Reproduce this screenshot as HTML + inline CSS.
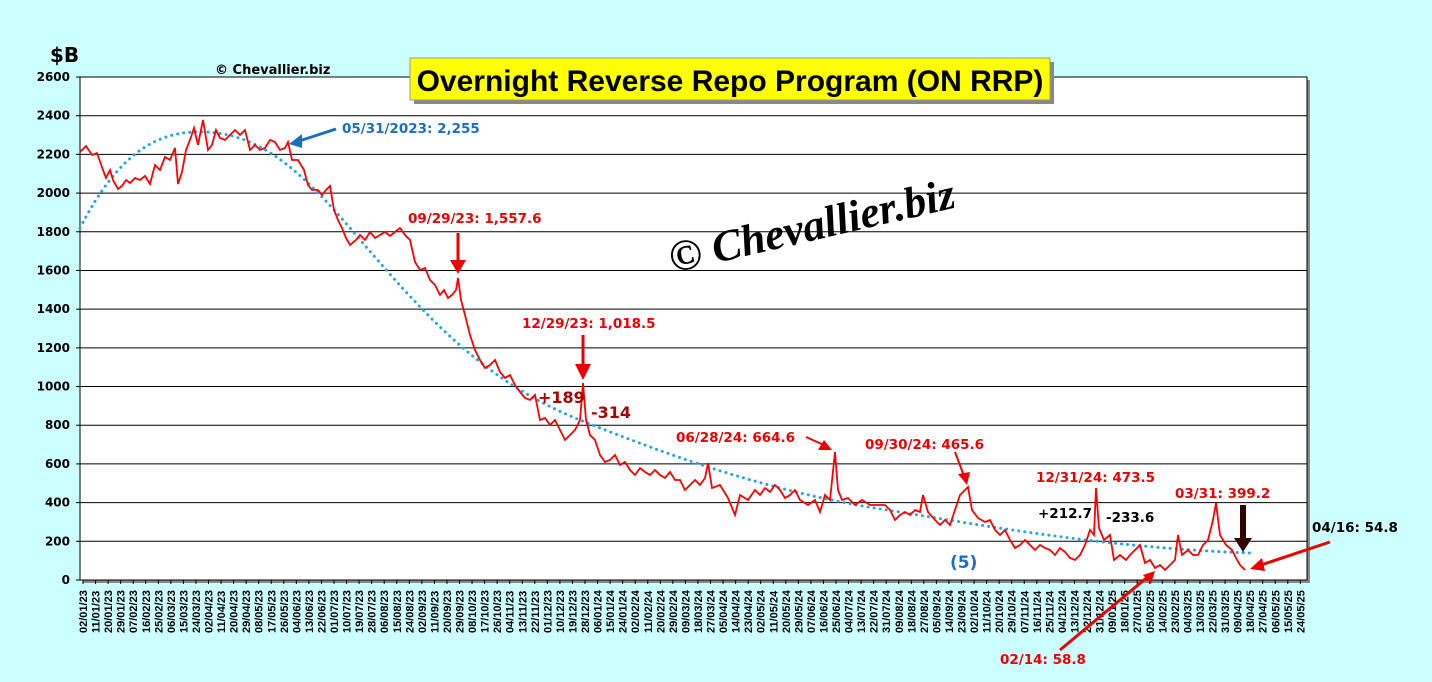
<!DOCTYPE html>
<html><head><meta charset="utf-8"><style>
body{margin:0;background:#ccffff;width:1432px;height:682px;overflow:hidden;font-family:"DejaVu Sans",sans-serif}
</style></head><body>
<svg id="s" width="1432" height="682" xmlns="http://www.w3.org/2000/svg" style="position:absolute;left:0;top:0">
<rect x="0" y="0" width="1432" height="682" fill="#ccffff"/>
<rect x="83" y="80" width="1227" height="503" fill="#888"/>
<rect x="80" y="77" width="1227" height="503" fill="#fff" stroke="#000" stroke-width="1"/>
<g id="grid"></g>
<g id="xl" font-family="Liberation Sans,sans-serif" font-weight="bold" font-size="11" fill="#000"></g>
<path id="trend" fill="none" stroke="#1fa8e8" stroke-width="3" stroke-dasharray="0.1,6" stroke-linecap="round"/>
<polyline id="line" fill="none" stroke="#ff0000" stroke-width="1.8"/>
<text x="50" y="62" font-size="20" font-weight="bold">$B</text>
<text x="215" y="74" font-size="13" font-weight="bold">© Chevallier.biz</text>
<rect x="414" y="62" width="640" height="42" fill="#888"/>
<rect x="410" y="58" width="640" height="42" fill="#ffff00" stroke="#999"/>
<text x="730" y="91" text-anchor="middle" font-family="Liberation Sans,sans-serif" font-weight="bold" font-size="30">Overnight Reverse Repo Program (ON RRP)</text>
<text x="815" y="240" transform="rotate(-13 815 240)" text-anchor="middle" font-family="Liberation Serif,serif" font-style="italic" font-weight="bold" font-size="44" fill="#000">© Chevallier.biz</text>
<g font-size="13.5" font-weight="bold">
<text x="342" y="133" fill="#1a6fc0">05/31/2023: 2,255</text>
<text x="408" y="223" fill="#ee0000">09/29/23: 1,557.6</text>
<text x="522" y="328" fill="#ee0000">12/29/23: 1,018.5</text>
<text x="538" y="403" fill="#aa0000" font-size="16">+189</text>
<text x="591" y="418" fill="#aa0000" font-size="16">-314</text>
<text x="676" y="442" fill="#ee0000">06/28/24: 664.6</text>
<text x="865" y="449" fill="#ee0000">09/30/24: 465.6</text>
<text x="1036" y="482" fill="#ee0000">12/31/24: 473.5</text>
<text x="1038" y="518" fill="#000">+212.7</text>
<text x="1106" y="522" fill="#000">-233.6</text>
<text x="1175" y="498" fill="#ee0000">03/31: 399.2</text>
<text x="1312" y="532" fill="#000">04/16: 54.8</text>
<text x="1000" y="664" fill="#ee0000">02/14: 58.8</text>
<text x="950" y="568" fill="#1a6fc0" font-size="17">(5)</text>
</g>
<g stroke-width="3" fill="none">
<line x1="336" y1="129" x2="293" y2="143" stroke="#1a6fc0"/><polygon points="289,144 302,134 302,148" fill="#1a6fc0"/>
<line x1="458" y1="233" x2="458" y2="262" stroke="#ee0000"/><polygon points="450,260 466,260 458,274" fill="#ee0000"/>
<line x1="583" y1="335" x2="583" y2="366" stroke="#ee0000"/><polygon points="575,364 591,364 583,380" fill="#ee0000"/>
<line x1="806" y1="437" x2="826" y2="446" stroke="#ee0000" stroke-width="2"/><polygon points="832,450 818,450 824,440" fill="#ee0000"/>
<line x1="955" y1="452" x2="964" y2="476" stroke="#ee0000" stroke-width="2"/><polygon points="967,485 958,474 970,472" fill="#ee0000"/>
<line x1="1243" y1="505" x2="1243" y2="540" stroke="#330000" stroke-width="6"/><polygon points="1234,538 1252,538 1243,552" fill="#330000"/>
<line x1="1330" y1="542" x2="1258" y2="566" stroke="#ee0000"/><polygon points="1250,569 1262,558 1265,571" fill="#ee0000"/>
<line x1="1060" y1="650" x2="1150" y2="575" stroke="#ee0000"/><polygon points="1155,571 1151,584 1143,575" fill="#ee0000"/>
</g>
</svg>
<script>
var NS="http://www.w3.org/2000/svg",s=document.getElementById('s');
function el(t,a,p,txt){var e=document.createElementNS(NS,t);for(var k in a)e.setAttribute(k,a[k]);if(txt)e.textContent=txt;(p||s).appendChild(e);return e;}
var g=document.getElementById('grid');
for(var v=0;v<=2600;v+=200){var y=580-v*503/2600;if(v>0&&v<2600)el('line',{x1:80,x2:1307,y1:y,y2:y,stroke:'#000','stroke-width':1},g);
el('line',{x1:76,x2:80,y1:y,y2:y,stroke:'#000'},g);
el('text',{x:70,y:y+4,'text-anchor':'end','font-size':12,'font-weight':'bold'},g,String(v));}
var xl=document.getElementById('xl');var d0=new Date(Date.UTC(2023,0,2));
for(var i=0;i<98;i++){var d=new Date(d0.getTime()+i*9*864e5);var x=83+i*12.55;
var t=('0'+d.getUTCDate()).slice(-2)+'/'+('0'+(d.getUTCMonth()+1)).slice(-2)+'/'+String(d.getUTCFullYear()).slice(2);
el('line',{x1:x,x2:x,y1:580,y2:584,stroke:'#000'},g);
el('text',{x:0,y:0,transform:'translate('+(x+4)+',633) rotate(-90)'},xl,t);}
var p="80,152 86,146 92,155 97,153 103,170 106,178 110,170 113,180 118,189 122,186 126,180 130,183 135,178 140,180 145,176 150,184 155,165 160,170 165,157 170,160 175,148 178,184 182,172 186,150 190,140 194,128 198,145 203,120 208,150 212,145 216,130 220,138 225,140 230,135 235,130 240,135 245,130 250,150 255,145 260,150 265,148 270,140 275,142 280,150 285,148 288,142 292,160 298,160 304,170 308,185 312,190 318,190 322,195 326,190 330,186 334,210 338,220 342,228 346,238 350,245 356,240 360,235 365,240 370,232 375,238 380,235 385,232 390,236 395,232 400,228 405,235 410,240 415,262 420,270 425,268 430,280 435,285 440,295 444,290 448,298 452,295 456,290 458,278 461,300 465,315 470,335 475,350 480,360 485,368 490,365 495,360 500,372 505,378 510,375 515,385 520,392 525,398 530,400 535,395 540,420 545,418 550,425 555,420 560,430 565,440 570,435 575,430 580,420 583,383 586,420 590,435 595,440 600,455 605,462 610,460 615,455 620,465 625,462 630,470 635,475 640,468 645,472 650,475 655,470 660,475 665,478 670,472 675,480 680,480 685,490 690,485 695,480 700,485 705,478 708,463 712,488 720,485 728,498 735,515 740,495 748,500 755,490 760,495 765,488 770,492 775,485 780,490 785,498 790,495 795,490 800,500 808,505 815,500 820,512 825,495 830,500 835,452 838,490 842,500 848,498 855,505 862,500 870,505 878,505 885,505 890,510 895,520 900,515 905,512 910,515 915,510 920,512 923,495 928,512 935,520 940,525 945,520 950,525 955,510 960,495 965,490 968,487 972,510 978,518 985,522 990,520 995,530 1000,535 1005,530 1010,540 1015,548 1020,545 1025,540 1030,545 1035,550 1040,545 1045,548 1050,550 1055,555 1060,548 1065,552 1070,558 1075,560 1080,555 1085,545 1090,530 1094,535 1096,488 1099,528 1104,540 1110,535 1114,560 1120,555 1126,560 1130,555 1135,550 1140,545 1145,563 1150,560 1155,568 1160,565 1165,570 1170,565 1175,560 1178,535 1182,555 1188,550 1193,555 1198,555 1203,545 1208,540 1213,520 1216,503 1220,535 1226,545 1232,550 1236,558 1240,565 1245,570";
document.getElementById('line').setAttribute('points',p);
document.getElementById('trend').setAttribute('d',"M80,228 C120,150 160,130 205,132 C260,134 300,170 350,228 C420,310 480,380 580,420 C680,460 780,495 900,512 C1020,532 1120,548 1250,553");
</script>
</body></html>
